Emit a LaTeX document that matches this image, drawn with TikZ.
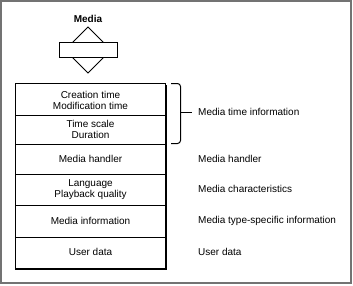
\documentclass[tikz,border=0pt]{standalone}
\usepackage{fontspec}
\setmainfont{Liberation Sans}
\begin{document}
\begin{tikzpicture}[x=1pt,y=-1pt,
  txt/.style={font=\fontsize{10}{11}\selectfont, inner sep=0pt, align=center},
  lbl/.style={font=\fontsize{10}{11}\selectfont, inner sep=0pt, anchor=west},
  thin/.style={line width=1pt}]
\useasboundingbox (0,0) rectangle (353,285);
% frame
\draw[gray!90!black, line width=2pt] (1,1) rectangle (350.5,283);
% title and icon
\node[font=\bfseries\fontsize{10}{11}\selectfont, inner sep=0pt] (title) at (88,19) {Media};
\draw[thin] (88,27) -- (111,50) -- (88,73) -- (65,50) -- cycle;
\filldraw[thin, fill=white] (59,42) rectangle (117,57);
% main box
\coordinate (tl) at (15.5,83);
\coordinate (br) at (165.5,269);
\draw[thin] (tl) rectangle (br);
\draw[line width=2pt] (166,85) -- (166,269) -- (16,269);
\foreach \y in {115,144,174,205,237} \draw[thin] (15.5,\y) -- (165.5,\y);
% box texts
\node[txt] (r1) at (90.5,100) {Creation time\\Modification time};
\node[txt] (r2) at (90.5,129) {Time scale\\Duration};
\node[txt] (r3) at (90.5,159) {Media handler};
\node[txt] (r4) at (90.5,189.5) {Language\\Playback quality};
\node[txt] (r5) at (90.5,221) {Media information};
\node[txt] (r6) at (90.5,252) {User data};
% bracket
\draw[thin, rounded corners=3pt] (171,83.5) -- (180.5,83.5) -- (180.5,143.5) -- (171,143.5);
\coordinate (bm) at (180.5,112);
\node[lbl] (l1) at (198,112) {Media time information};
\draw[thin] (bm) -- (192,112);
\node[lbl] (l2) at (198,159) {Media handler};
\node[lbl] (l3) at (198,189) {Media characteristics};
\node[lbl] (l4) at (198,221) {Media type-specific information};
\node[lbl] (l5) at (198,252) {User data};
\end{tikzpicture}
\end{document}
